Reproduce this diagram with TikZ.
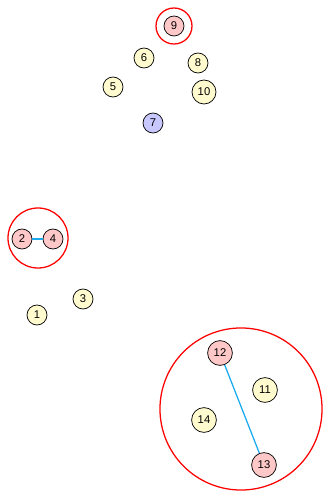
\documentclass[tikz,border=0pt]{standalone}
\usepackage{fontspec}
\setmainfont{Liberation Sans}
\usepackage{tikz}

\definecolor{vyellow}{HTML}{FFFBCF}
\definecolor{vpink}{HTML}{FFC8C8}
\definecolor{vblue}{HTML}{C8C8FF}
\definecolor{eblue}{HTML}{1AAAEE}

\begin{document}
\begin{tikzpicture}[
  x=0.025cm,y=-0.025cm,
  vert/.style={circle,draw,line width=0.5pt,inner sep=0pt,
    minimum size=0.5cm,font=\fontsize{8}{9}\selectfont},
  big/.style={minimum size=0.62cm},
  plain/.style={vert,fill=vyellow},
  hit/.style={vert,fill=vpink},
  seed/.style={vert,fill=vblue},
  group/.style={draw=red,line width=0.9pt},
  link/.style={draw=eblue,line width=0.9pt}]
\useasboundingbox (0,0) rectangle (322,491);
\node[hit] (v9) at (174,26) {9};
\node[plain] (v6) at (144,58) {6};
\node[plain] (v8) at (198,63) {8};
\node[plain] (v5) at (113,87) {5};
\node[plain,minimum size=0.6cm] (v10) at (204,92) {10};
\node[seed] (v7) at (153,123) {7};
\node[hit] (v2) at (22,239) {2};
\node[hit] (v4) at (53,239) {4};
\node[plain] (v3) at (83,299) {3};
\node[plain] (v1) at (37,315) {1};
\node[hit,big] (v12) at (220,353) {12};
\node[plain,big] (v11) at (265,390) {11};
\node[plain,big] (v14) at (204,420) {14};
\node[hit,big] (v13) at (264,465) {13};
\draw[link] (v2) -- (v4);
\draw[link] (v12) -- (v13);
\node[group,circle,minimum size=0.9cm] (c9) at (v9) {};
\node[group,circle,minimum size=1.5cm] (c24) at (38,238) {};
\node[group,circle,minimum size=4.05cm] (c1213) at (241,409) {};
\end{tikzpicture}
\end{document}
